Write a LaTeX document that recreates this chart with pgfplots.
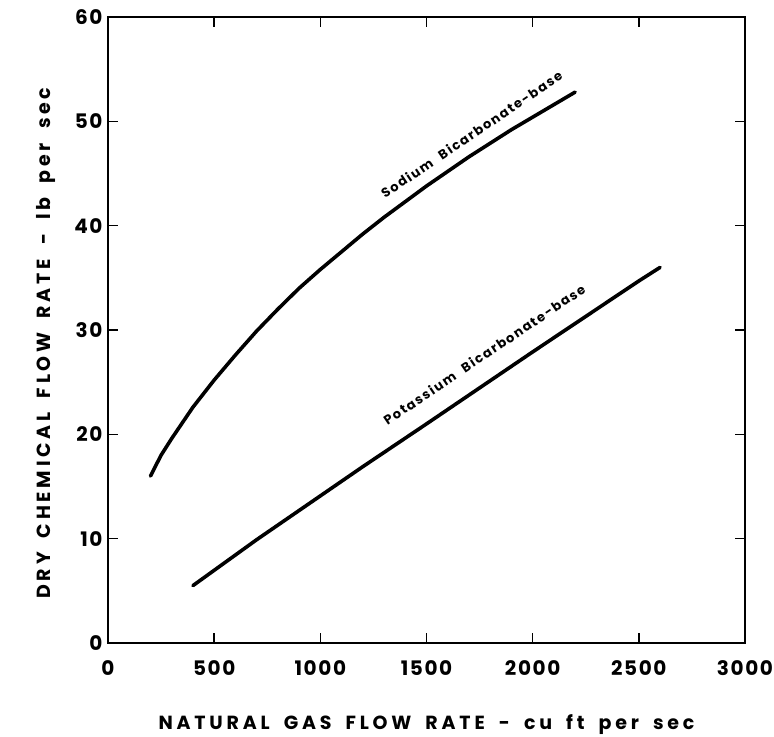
\documentclass[border=0pt]{standalone}
\usepackage{fontspec}
\setmainfont{Poppins}
\newfontfamily\labfont{Poppins}[LetterSpace=20, WordSpace=1.8]
\newfontfamily\tickfont{Poppins}[LetterSpace=8]
\newfontfamily\curvefont{Poppins}[LetterSpace=12, WordSpace=2.2]
\usepackage{pgfplots}
\pgfplotsset{compat=1.18}
\begin{document}
\begin{tikzpicture}
\begin{axis}[
  at={(0,0)}, anchor=south west,
  scale only axis,
  width=637bp, height=626bp,
  xmin=0, xmax=3000, ymin=0, ymax=60,
  xtick={0,500,1000,1500,2000,2500,3000},
  ytick={0,10,20,30,40,50,60},
  tick align=inside,
  major tick length=10bp,
  axis line style={line width=1.6pt},
  tick style={line width=1.4pt, black},
  /pgf/number format/assume math mode=true,
  /pgf/number format/set thousands separator={},
  tick label style={font=\tickfont\fontsize{20bp}{23bp}\selectfont\bfseries},
  xticklabel style={yshift=-14bp},
  yticklabel style={xshift=-2bp},
  label style={font=\labfont\fontsize{19bp}{22bp}\selectfont\bfseries},
  xlabel={NATURAL GAS FLOW RATE - cu ft per sec},
  ylabel={DRY CHEMICAL FLOW RATE - lb per sec},
  xlabel style={at={(axis description cs:0.5,-0.131)}, anchor=center},
  ylabel style={at={(axis description cs:-0.0975,0.479)}, anchor=center},
  clip=false,
]
\addplot[black, line width=3.6pt, line cap=round] coordinates {
(200,16.0) (250,18.0) (300,19.6) (400,22.6) (500,25.2) (600,27.6)
(700,29.9) (800,32.0) (900,34.0) (1000,35.8) (1100,37.5) (1200,39.2)
(1300,40.8) (1400,42.3) (1500,43.8) (1600,45.2) (1700,46.6) (1800,47.9)
(1900,49.2) (2000,50.4) (2100,51.6) (2200,52.8)
};
\addplot[black, line width=3.6pt, line cap=round] coordinates {
(400,5.5) (700,9.9) (1000,14.1) (1200,16.9) (1500,21.0) (2000,27.9)
(2500,34.7) (2600,36.0)
};
\node[rotate=34, anchor=center, font=\curvefont\fontsize{13bp}{15bp}\selectfont\bfseries, inner sep=0pt] at (axis cs:1712,48.75) {Sodium Bicarbonate-base};
\node[rotate=34, anchor=center, font=\curvefont\fontsize{13bp}{15bp}\selectfont\bfseries, inner sep=0pt] at (axis cs:1772,27.65) {Potassium Bicarbonate-base};
\end{axis}
\pgfresetboundingbox
\path[use as bounding box] (-108bp,-94bp) rectangle (666bp,643bp);
\end{tikzpicture}
\end{document}
